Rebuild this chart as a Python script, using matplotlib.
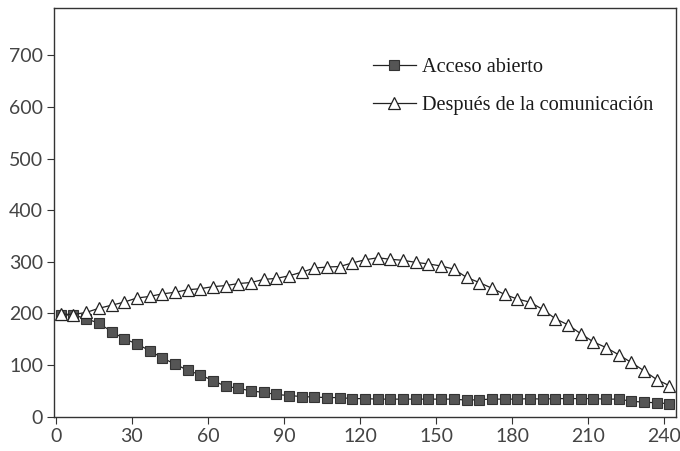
import numpy as np
import matplotlib
matplotlib.use('Agg')
from matplotlib import pyplot as plt

plt.rcParams['font.family'] = ['Liberation Serif', 'DejaVu Serif']

# eje horizontal: un punto cada 5 periodos
periodos = [2, 7, 12, 17, 22, 27, 32, 37, 42, 47, 52, 57, 62, 67, 72, 77, 82,
            87, 92, 97, 102, 107, 112, 117, 122, 127, 132, 137, 142, 147, 152,
            157, 162, 167, 172, 177, 182, 187, 192, 197, 202, 207, 212, 217,
            222, 227, 232, 237, 242]

acceso_abierto = [197, 197, 190, 181, 165, 151, 141, 128, 114, 102, 90, 81, 70,
                  59, 55, 50, 47, 43, 41, 39, 38, 37, 37, 35, 35, 34, 34, 34,
                  34, 34, 34, 34, 32, 33, 34, 34, 34, 35, 34, 35, 35, 35, 35,
                  34, 34, 30, 28, 27, 25]

despues_comunicacion = [199, 198, 202, 210, 216, 222, 230, 233, 238, 241, 246,
                        248, 252, 254, 258, 260, 266, 268, 273, 280, 288, 290,
                        291, 298, 304, 308, 305, 303, 299, 296, 292, 286, 270,
                        260, 249, 237, 228, 222, 208, 190, 178, 161, 145, 134,
                        120, 105, 89, 72, 60]

xticks = [0, 30, 60, 90, 120, 150, 180, 210, 240]
yticks = [0, 100, 200, 300, 400, 500, 600, 700]

fig = plt.figure(figsize=(6.8, 4.51), dpi=100)
ax = fig.add_axes([0.0799, 0.0761, 0.9138, 0.9062])

ax.plot(periodos, acceso_abierto, color='#222222', lw=0.9, marker='s',
        markersize=6.8, markerfacecolor='#555555', markeredgecolor='#333333',
        markeredgewidth=0.8, label='Acceso abierto')
ax.plot(periodos, despues_comunicacion, color='#222222', lw=0.9, marker='^',
        markersize=8, markerfacecolor='white', markeredgecolor='#222222',
        markeredgewidth=0.9, label='Después de la comunicación')

ax.set_xlim(-0.55, 244.5)
ax.set_ylim(0, 792)
ax.set_xticks(xticks)
ax.set_yticks(yticks)

for lab in ax.get_xticklabels() + ax.get_yticklabels():
    lab.set_fontfamily(['Lato', 'DejaVu Sans'])
    lab.set_fontsize(14)
    lab.set_color('#444444')

ax.tick_params(axis='both', direction='out', length=5, width=0.8,
               color='#333333', pad=3)
for s in ax.spines.values():
    s.set_linewidth(1.0)
    s.set_color('#333333')

leg = ax.legend(loc='upper left', bbox_to_anchor=(0.513, 0.877), frameon=False,
                fontsize=14.6, handlelength=2.1, handletextpad=0.3,
                labelspacing=0.9, borderaxespad=0, borderpad=0)
for t in leg.get_texts():
    t.set_color('#1a1a1a')

fig.savefig('out.png', dpi=100)
